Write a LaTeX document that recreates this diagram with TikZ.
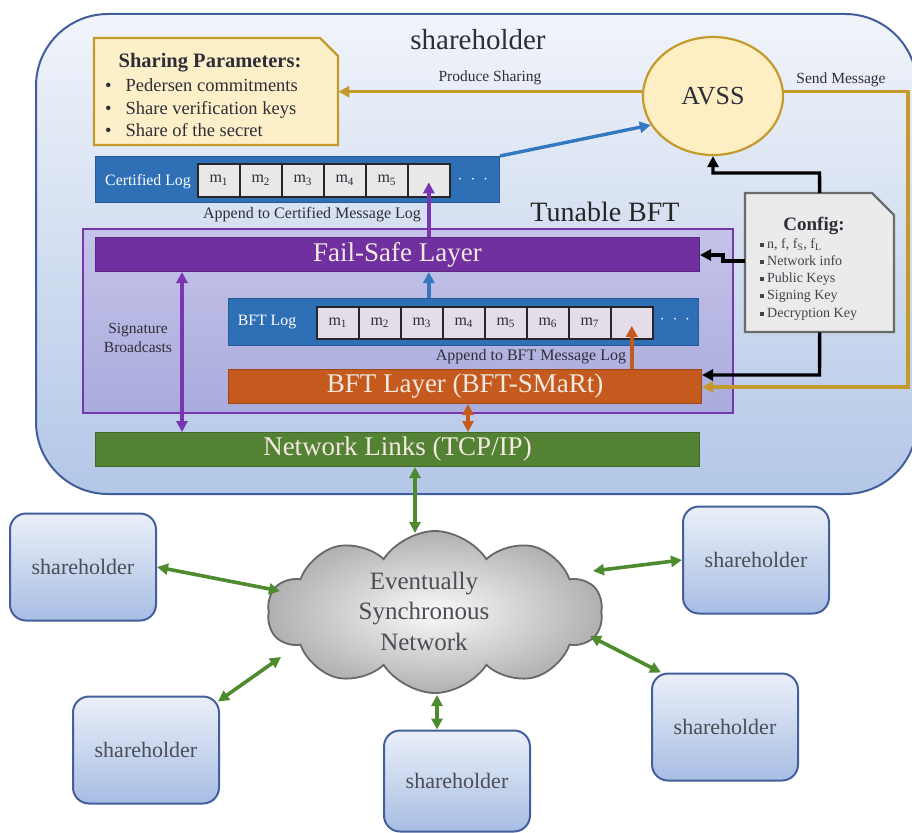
\documentclass[tikz,border=0pt]{standalone}
\usepackage{fontspec}
\setmainfont{Liberation Serif}
\usetikzlibrary{arrows.meta,shapes.symbols,shapes.geometric}
\definecolor{bigtop}{HTML}{F1F4FA}
\definecolor{bigbot}{HTML}{B3C7E7}
\definecolor{bigborder}{HTML}{3F5E9B}
\definecolor{goldc}{HTML}{C49A2C}
\definecolor{sharefill}{HTML}{FDF0C9}
\definecolor{avssfill}{HTML}{FDEEC3}
\definecolor{cfgfill}{HTML}{EBEBEB}
\definecolor{cfgborder}{HTML}{6B6B6B}
\definecolor{purp}{HTML}{7A35B0}
\definecolor{tbtop}{HTML}{C4C3E9}
\definecolor{tbbot}{HTML}{A9ABDC}
\definecolor{fsfill}{HTML}{7030A0}
\definecolor{logblue}{HTML}{2E6FB6}
\definecolor{logborder}{HTML}{255A94}
\definecolor{cellgray}{HTML}{E8E8E8}
\definecolor{celllav}{HTML}{E5DCE9}
\definecolor{bftfill}{HTML}{C55A1F}
\definecolor{netfill}{HTML}{548235}
\definecolor{greenarr}{HTML}{4E8A2E}
\definecolor{bluearr}{HTML}{3479C0}
\definecolor{txt}{HTML}{2E2E38}
\definecolor{laytxt}{HTML}{F3E9E0}
\definecolor{shtop}{HTML}{EBF0F9}
\definecolor{shbot}{HTML}{A7BDE3}
\definecolor{shborder}{HTML}{44609C}
\definecolor{cloudborder}{HTML}{676767}
\begin{document}
\begin{tikzpicture}[x=1pt,y=-1pt,
  lbl/.style={text=txt, inner sep=0},
  bar/.style={anchor=north west, inner sep=0, line width=1pt},
  cellbox/.style={draw=black!85, line width=1.6pt, minimum width=42pt, anchor=north west, inner sep=0, text=txt, font={\fontsize{16}{18}\selectfont}},
  tip/.style={-{Triangle[length=11pt,width=11pt]}},
  dtip/.style={{Triangle[length=11pt,width=11pt]}-{Triangle[length=11pt,width=11pt]}},
  goldarr/.style={tip, draw=goldc, line width=3.4pt},
  blackarr/.style={tip, draw=black, line width=3.4pt},
  shbox/.style={draw=shborder, line width=2pt, rounded corners=16pt, top color=shtop, bottom color=shbot, minimum width=146pt, minimum height=107pt, text=txt!85, font={\fontsize{22}{26}\selectfont}},
  garr/.style={dtip, draw=greenarr, line width=3.6pt},
  laytext/.style={text=laytxt, font={\fontsize{27}{30}\selectfont}},
  dots/.style={inner sep=0, text=white, font={\fontsize{16}{18}\selectfont}}
]
\useasboundingbox (0,0) rectangle (912,832);

% big shareholder box
\node[draw=bigborder, line width=2pt, rounded corners=72pt, top color=bigtop, bottom color=bigbot,
  minimum width=881pt, minimum height=480pt, anchor=north west, inner sep=0] (sh0) at (35,13) {};
\node[lbl, font={\fontsize{29}{34}\selectfont}] (title) at (478,40) {shareholder};

% sharing parameters
\path[draw=goldc, line width=2.2pt, fill=sharefill] (94,38) -- (320,38) -- (338,56) -- (338,145) -- (94,145) -- cycle;
\node[anchor=north west, minimum width=244pt, minimum height=107pt, inner sep=0] (sp) at (94,38) {};
\node[lbl, font={\bfseries\fontsize{20.5}{24}\selectfont}] (sptitle) at (210,63) {Sharing Parameters:};
\node[lbl, anchor=west, font={\fontsize{18.5}{22.5}\selectfont}, align=left] (splist) at (105,108)
  {•\hspace{14pt}Pedersen commitments\\ •\hspace{14pt}Share verification keys\\ •\hspace{14pt}Share of the secret};

% AVSS
\node[ellipse, draw=goldc, line width=2.2pt, fill=avssfill, minimum width=140pt, minimum height=118pt, inner sep=0,
  text=txt, font={\fontsize{26}{30}\selectfont}] (avss) at (713,96) {AVSS};

% config
\path[draw=cfgborder, line width=2.2pt, fill=cfgfill] (745,193) -- (872,193) -- (894,215) -- (894,332) -- (745,332) -- cycle;
\node[anchor=north west, minimum width=149pt, minimum height=139pt, inner sep=0] (cfg) at (745,193) {};
\node[lbl, font={\bfseries\fontsize{19}{22}\selectfont}] (cfgtitle) at (814,226) {Config:};
\newcommand\sqb{\rule[1.5pt]{4pt}{4pt}\hspace{3pt}}
\node[lbl, anchor=north west, align=left, font={\fontsize{14}{17.3}\selectfont}, text=txt!90] (cfglist) at (760,238)
  {\sqb n, f, f\textsubscript{S}, f\textsubscript{L}\\ \sqb Network info\\ \sqb Public Keys\\ \sqb Signing Key\\ \sqb Decryption Key};

% tunable BFT
\node[lbl, font={\fontsize{28}{32}\selectfont}, text=black!85] (tbtitle) at (605,212) {Tunable BFT};
\node[draw=purp, line width=2pt, top color=tbtop, bottom color=tbbot, anchor=north west, inner sep=0,
  minimum width=650pt, minimum height=184pt] (tbft) at (82,228) {};

% certified log
\node[bar, fill=logblue, draw=logborder, minimum width=404pt, minimum height=46pt] (cl) at (95,156) {};
\node[inner sep=0, text=white, font={\fontsize{15.8}{18}\selectfont}] (cltxt) at (148,182) {Certified Log};
\foreach \i/\t in {1/m\textsubscript{1},2/m\textsubscript{2},3/m\textsubscript{3},4/m\textsubscript{4},5/m\textsubscript{5},6/{}}
  \node[cellbox, fill=cellgray, minimum height=33pt] (c\i) at ({197+42*(\i-1)},163) {\t};
\node[dots] (cldots) at (473,180) {$\cdot\ \cdot\ \cdot$};
\node[lbl, font={\fontsize{16}{19}\selectfont}] (clapp) at (312,215) {Append to Certified Message Log};

% fail-safe layer
\node[bar, fill=fsfill, draw=fsfill!80!black, minimum width=604pt, minimum height=34pt, laytext] (fs) at (95,237) {Fail-Safe Layer};

% BFT log
\node[bar, fill=logblue, draw=logborder, minimum width=470pt, minimum height=47pt] (bl) at (228,298) {};
\node[inner sep=0, text=white, font={\fontsize{15.8}{18}\selectfont}] (bltxt) at (267,322) {BFT Log};
\foreach \i in {1,...,7}
  \node[cellbox, fill=celllav, minimum height=32pt] (b\i) at ({316+42*(\i-1)},306) {m\textsubscript{\i}};
\node[cellbox, fill=celllav, minimum height=32pt] (b8) at (610,306) {};
\node[dots] (bldots) at (675,320) {$\cdot\ \cdot\ \cdot$};
\node[lbl, font={\fontsize{16}{19}\selectfont}] (blapp) at (531,357) {Append to BFT Message Log};

% BFT layer
\node[bar, fill=bftfill, draw=bftfill!80!black, minimum width=473pt, minimum height=34pt, laytext] (bft) at (228,369) {BFT Layer (BFT-SMaRt)};

% signature broadcasts
\node[lbl, align=center, font={\fontsize{15.5}{19}\selectfont}] (sigb) at (138,338) {Signature\\Broadcasts};

% network links
\node[bar, fill=netfill, draw=netfill!80!black, minimum width=604pt, minimum height=34pt, laytext] (net) at (95,432) {Network Links (TCP/IP)};

% arrows inside
\draw[goldarr] (avss.west |- sp.east) -- (sp.east);
\node[lbl, font={\fontsize{15.5}{18}\selectfont}] (prodlbl) at (490,78) {Produce Sharing};
\coordinate (sm1) at (908,91.5);
\coordinate (sm2) at (908,387);
\draw[goldarr] (avss.east |- sm1) -- (sm1) -- (sm2) -- (bft.east |- sm2);
\node[lbl, font={\fontsize{15.5}{18}\selectfont}] (sendlbl) at (841,80) {Send Message};

\coordinate (k1) at (819.5,173);
\draw[blackarr] (cfg.north) -- (k1) -| (avss.south);
\coordinate (k2) at (723,261);
\coordinate (k3) at (723,255);
\draw[blackarr] (cfg.west |- k2) -- (k2) -- (k3) -- (fs.east |- k3);
\coordinate (k4) at (819.5,375);
\draw[blackarr] (cfg.south) -- (k4) -- (bft.east |- k4);

\draw[tip, draw=bluearr, line width=3.4pt] (cl.north east) -- (avss.205);
\draw[tip, draw=purp, line width=3.4pt] (fs.north -| c6) -- ([yshift=-2pt]c6.center);
\draw[tip, draw=bluearr, line width=3.4pt] (bl.north -| c6) -- (fs.south -| c6);
\draw[tip, draw=bftfill, line width=3.4pt] (bft.north -| b8) -- ([yshift=-3pt]b8.center);
\coordinate (sbx) at (182,300);
\draw[dtip, draw=purp, line width=3.4pt] (fs.south -| sbx) -- (net.north -| sbx);
\coordinate (obx) at (468,420);
\draw[dtip, draw=bftfill, line width=3.4pt] (bft.south -| obx) -- (net.north -| obx);

% cloud
\node[cloud, cloud puffs=10, cloud puff arc=115, aspect=2, draw=cloudborder, line width=1.8pt, inner color=white!96!gray, outer color=gray!62,
  minimum width=335pt, minimum height=162pt, inner sep=0] (cloud) at (435,612) {};
\node[lbl, align=center, text=txt!85, font={\fontsize{25}{30.5}\selectfont}] (cloudtxt) at (424,611) {Eventually\\Synchronous\\Network};
\coordinate (ct) at (415,533);
\draw[garr] (net.south -| ct) -- (ct);

% shareholders
\node[shbox] (sh1) at (83,567) {shareholder};
\node[shbox] (sh2) at (146,750) {shareholder};
\node[shbox, minimum height=101pt] (sh3) at (457,781) {shareholder};
\node[shbox] (sh4) at (756,560) {shareholder};
\node[shbox] (sh5) at (725,727) {shareholder};

\coordinate (g1) at (280,591);
\coordinate (g2) at (281,657);
\coordinate (g3) at (437,695);
\coordinate (g4) at (593,571);
\coordinate (g5) at (590,636);
\draw[garr] (sh1.east) -- (g1);
\draw[garr] ([xshift=-2pt,yshift=-6pt]sh2.north east) -- (g2);
\draw[garr] (sh3.north -| g3) -- (g3);
\draw[garr] (sh4.west) -- (g4);
\draw[garr] ([xshift=10pt]sh5.north west) -- (g5);
\end{tikzpicture}
\end{document}
